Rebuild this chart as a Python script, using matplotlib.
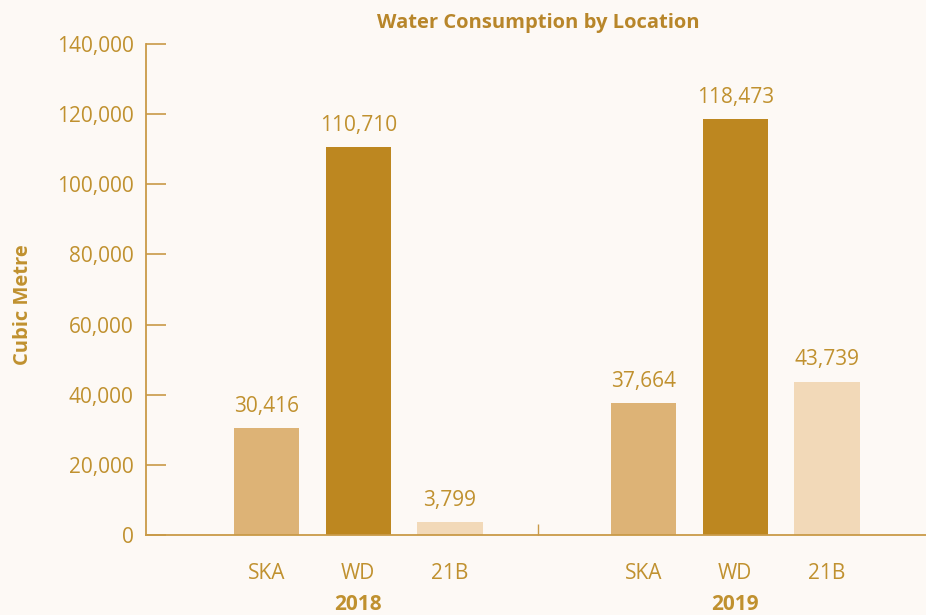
import numpy as np
import matplotlib
matplotlib.use("Agg")
import matplotlib.pyplot as plt
import matplotlib.transforms as mtransforms

# data
years = ["2018", "2019"]
locations = ["SKA", "WD", "21B"]
usage_2018 = [30416, 110710, 3799]
usage_2019 = [37664, 118473, 43739]
bar_colors = ["#DDB376", "#BD8720", "#F2D9B8"]

TEXT = "#C0912F"
AXIS = "#C99A48"

plt.rcParams["font.family"] = ["Open Sans", "DejaVu Sans"]

fig = plt.figure(figsize=(9.26, 6.15), dpi=100)
fig.patch.set_facecolor("#FDF9F5")
ax = fig.add_axes([146 / 926, 80 / 615, 1 - 146 / 926, 491 / 615])
ax.set_facecolor("none")

group_gap = 4.11
xs, labels = [], []
for g, vals in enumerate([usage_2018, usage_2019]):
    pos = np.arange(3) + g * group_gap
    bars = ax.bar(pos, vals, width=0.71, color=bar_colors)
    for b, v in zip(bars, vals):
        ax.annotate(f"{v:,}", (b.get_x() + b.get_width() / 2, v),
                    xytext=(0, 8), textcoords="offset points",
                    ha="center", va="bottom", fontsize=15, color=TEXT)
    xs.extend(pos)
    labels.extend(locations)
    trans = mtransforms.blended_transform_factory(ax.transData, ax.transAxes)
    ax.text(pos[1], -0.142, years[g], transform=trans, ha="center", va="center",
            fontsize=15, fontweight="bold", color=TEXT)

ax.set_xlim(-1.314, 7.19)
ax.set_ylim(0, 140000)
ax.set_yticks(np.arange(0, 140001, 20000))
ax.yaxis.set_major_formatter(matplotlib.ticker.FuncFormatter(lambda v, p: f"{int(v):,}"))
ax.tick_params(axis="y", direction="in", length=14.5, width=1.2, color=AXIS,
               labelsize=15, labelcolor=TEXT, pad=9)

ax.set_xticks(xs)
ax.set_xticklabels(labels)
ax.tick_params(axis="x", length=0, labelsize=15, labelcolor=TEXT, pad=20)
ax.set_xticks([2.96], minor=True)
ax.tick_params(axis="x", which="minor", direction="in", length=8, width=1, color=AXIS)

for s in ["top", "right"]:
    ax.spines[s].set_visible(False)
for s in ["left", "bottom"]:
    ax.spines[s].set_color(AXIS)
    ax.spines[s].set_linewidth(1.3)

ax.set_ylabel("Cubic Metre", fontsize=14.5, fontweight="bold", color=TEXT)
ax.yaxis.set_label_coords(-0.145, 0.47)
fig.text(538 / 926, 1 - 23 / 615, "Water Consumption by Location", ha="center",
         va="center", fontsize=14.5, fontweight="bold", color="#B8862A")

plt.savefig("out.png", dpi=100, facecolor=fig.get_facecolor())
